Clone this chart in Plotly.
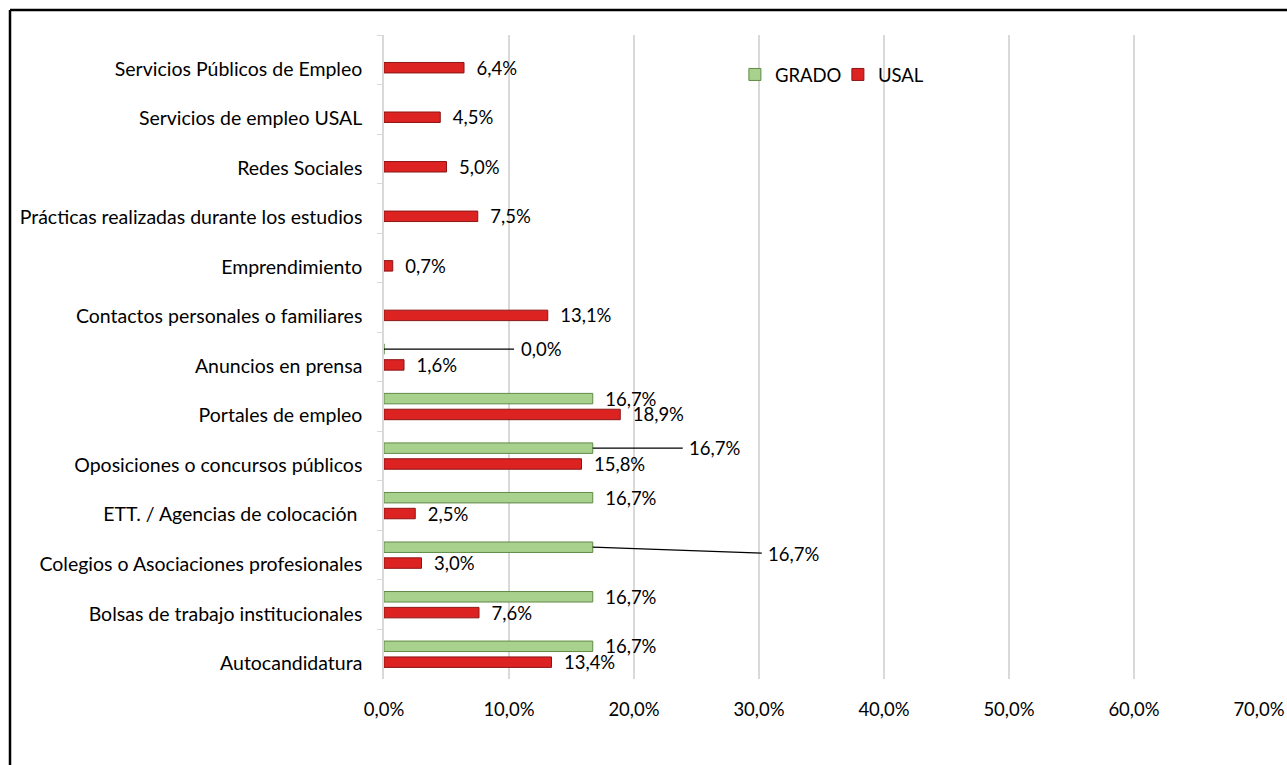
import plotly.graph_objects as go

categories = [
    "Servicios Públicos de Empleo",
    "Servicios de empleo USAL",
    "Redes Sociales",
    "Prácticas realizadas durante los estudios",
    "Emprendimiento",
    "Contactos personales o familiares",
    "Anuncios en prensa",
    "Portales de empleo",
    "Oposiciones o concursos públicos",
    "ETT. / Agencias de colocación ",
    "Colegios o Asociaciones profesionales",
    "Bolsas de trabajo institucionales",
    "Autocandidatura",
]
grado = [None, None, None, None, None, None, 0.0, 16.7, 16.7, 16.7, 16.7, 16.7, 16.7]
usal = [6.4, 4.5, 5.0, 7.5, 0.7, 13.1, 1.6, 18.9, 15.8, 2.5, 3.0, 7.6, 13.4]
x_ticks = [0, 10, 20, 30, 40, 50, 60, 70]

# GRADO labels drawn with a leader line: category -> (dx, dy) pixel offset of the label
leader = {
    "Anuncios en prensa": (157, 0),
    "Oposiciones o concursos públicos": (122, 0),
    "Colegios o Asociaciones profesionales": (201, 7),
}

FONT = "Lato"
FS = 18.5
FS_CAT = 19.5
NB = "\u00a0\u00a0"


def fmt(v):
    return f"{v:.1f}".replace(".", ",") + "%"


grado_text = []
for c, v in zip(categories, grado):
    if v is None or c in leader:
        grado_text.append("")
    else:
        grado_text.append(NB + fmt(v))
usal_text = [NB + fmt(v) for v in usal]

ML, MR, MT, MB = 384, 28, 35, 86
W, H = 1287, 765

fig = go.Figure()
fig.add_trace(go.Bar(
    name="GRADO", y=categories, x=grado, orientation="h",
    marker=dict(color="#a9d18e", line=dict(color="#5f8a45", width=1)),
    text=grado_text, textposition="outside", constraintext="none",
    textfont=dict(family=FONT, size=FS, color="#000000"), cliponaxis=False,
))
fig.add_trace(go.Bar(
    name="USAL", y=categories, x=usal, orientation="h",
    marker=dict(color="#dd2222", line=dict(color="#8b1515", width=1)),
    text=usal_text, textposition="outside", constraintext="none",
    textfont=dict(family=FONT, size=FS, color="#000000"), cliponaxis=False,
))

plot_h = H - MT - MB
cat_px = plot_h / len(categories)
bargap, bargroupgap = 0.36, 0.34
green_shift = cat_px * (1 - bargap) / 4

for c, v in zip(categories, grado):
    if c in leader and v is not None:
        dx, dy = leader[c]
        fig.add_annotation(
            x=v, y=c, yshift=green_shift, text=fmt(v), showarrow=True,
            arrowhead=0, arrowwidth=1.2, arrowcolor="#000000",
            ax=dx, ay=dy, borderpad=6,
            font=dict(family=FONT, size=FS, color="#000000"),
        )

# outer frame (left and top edges)
fx0 = (10 - ML) / (W - ML - MR)
fy1 = 1 + (MT - 10) / plot_h
fig.add_shape(type="line", xref="paper", yref="paper", x0=fx0, x1=fx0, y0=fy1, y1=-1,
              line=dict(color="#000000", width=2.5))
fig.add_shape(type="line", xref="paper", yref="paper", x0=fx0, x1=2, y0=fy1, y1=fy1,
              line=dict(color="#000000", width=2.5))

fig.update_layout(
    width=W, height=H,
    margin=dict(l=ML, r=MR, t=MT, b=MB, autoexpand=False),
    paper_bgcolor="white", plot_bgcolor="white",
    separators=",.",
    barmode="group", bargap=bargap, bargroupgap=bargroupgap,
    font=dict(family=FONT, size=FS, color="#000000"),
    showlegend=True,
    legend=dict(orientation="h", x=0.401, y=0.938, xanchor="left", yanchor="middle",
                font=dict(family=FONT, size=FS), itemwidth=30, entrywidth=58,
                bgcolor="rgba(0,0,0,0)"),
    xaxis=dict(range=[0, 70], tickvals=x_ticks, ticktext=[fmt(v) for v in x_ticks],
               showgrid=True, gridcolor="#d9d9d9", gridwidth=1.5, zeroline=False,
               showline=False, ticks="", ticklabelstandoff=17, automargin=False),
    yaxis=dict(type="category", autorange="reversed", showline=True, linecolor="#d9d9d9",
               linewidth=1.5, ticks="outside", tickson="boundaries", ticklen=5,
               tickcolor="#d9d9d9", showgrid=False, ticklabelshift=-9,
               ticklabelstandoff=16, automargin=False,
               tickfont=dict(family=FONT, size=FS_CAT)),
)

fig.write_html("out.html", config={"displayModeBar": False},
               post_script="document.body.style.margin='0';")
